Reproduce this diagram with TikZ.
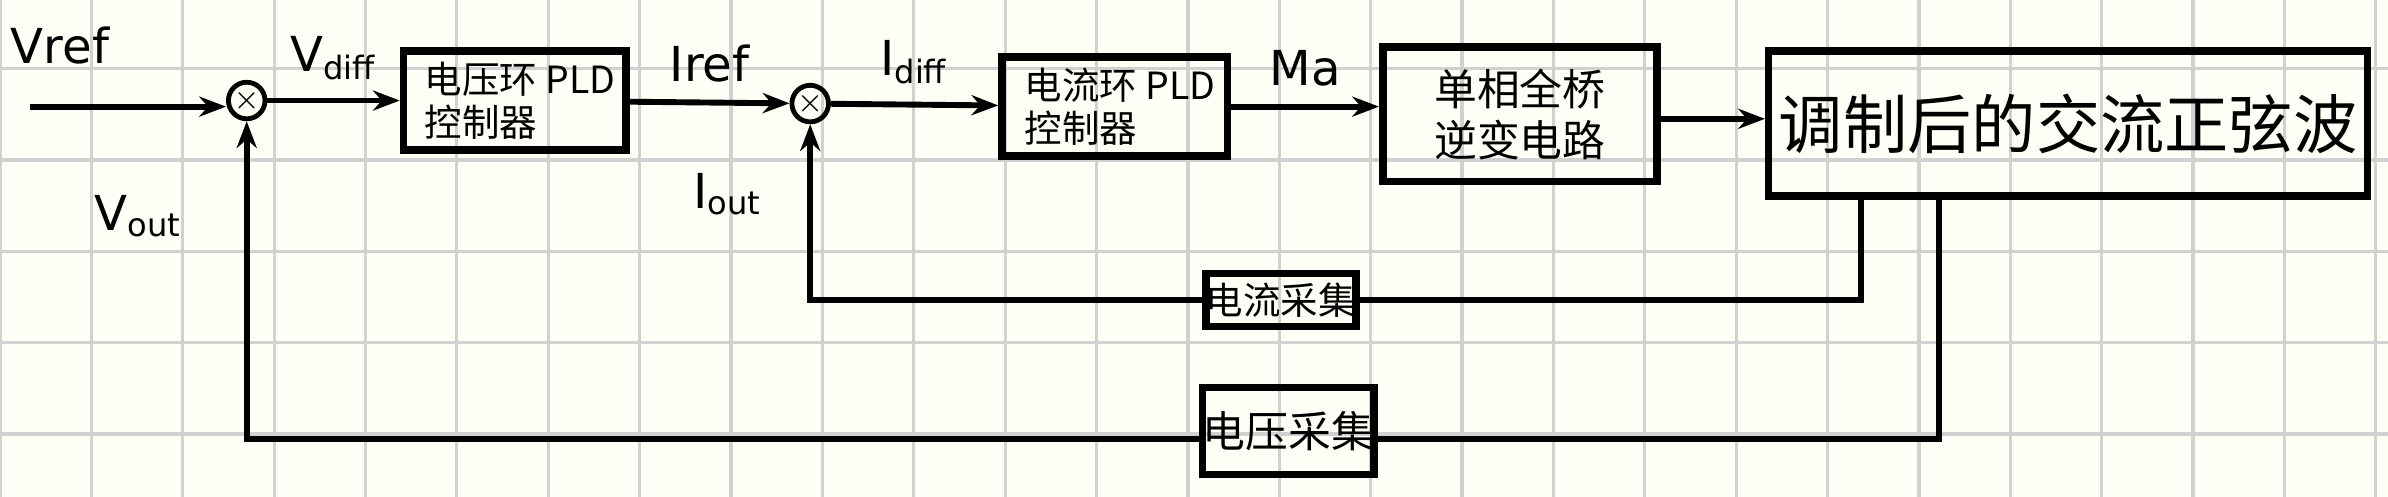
\documentclass[tikz,border=0pt]{standalone}
\usepackage{fontspec}
\setmainfont{DejaVu Sans}
\newfontfamily\cjk{Noto Sans CJK SC}
\usetikzlibrary{arrows.meta}
\tikzset{
  blk/.style={draw, line width=1.4pt, inner sep=0pt, font=\cjk\scriptsize, align=left},
  sum/.style={draw, circle, line width=0.9pt, minimum size=0.24cm, inner sep=0pt, font=\tiny},
  sig/.style={-{Stealth[length=5pt]}, line width=1.1pt},
  fb/.style={line width=1.1pt},
  lbl/.style={font=\small}
}
\begin{document}
\begin{tikzpicture}[x=0.01cm, y=-0.01cm]
\useasboundingbox (0,0) rectangle (1568,326);
\fill [white!97!yellow] (0,0) rectangle (1568,326);
\foreach \x in {0,...,26}
  \draw [black!18, line width=0.6pt] (60*\x,0) -- (60*\x,326);
\foreach \y in {0,...,4}
  \draw [black!18, line width=0.6pt] (0,45+60*\y) -- (1568,45+60*\y);
% blocks
\node [blk, minimum width=1.46cm, minimum height=0.65cm] (vpid) at (338,66) {\hspace{2pt}电压环 PLD\\\hspace{2pt}控制器};
\node [blk, minimum width=1.48cm, minimum height=0.65cm] (ipid) at (732,70) {\hspace{2pt}电流环 PLD\\\hspace{2pt}控制器};
\node [blk, minimum width=1.8cm, minimum height=0.88cm, font=\cjk\footnotesize] (inv) at (998,75) {单相全桥\\逆变电路};
\node [blk, minimum width=3.93cm, minimum height=0.95cm, font=\cjk\large] (out) at (1358,81) {调制后的交流正弦波};
\node [blk, minimum width=0.97cm, minimum height=0.35cm] (isen) at (841,197) {电流采集};
\node [blk, minimum width=1.1cm, minimum height=0.57cm, font=\cjk\footnotesize] (vsen) at (846,283) {电压采集};
% summing junctions
\node [sum] (s1) at (162,66) {$\times$};
\node [sum] (s2) at (532,68) {$\times$};
\coordinate (in) at (20,70);
% forward path
\draw [sig] (in) -- (s1.west |- in) node [lbl, pos=0.15, above=4pt] {Vref};
\draw [sig] (s1) -- (vpid) node [lbl, midway, above] {V\textsubscript{diff}};
\draw [sig] (vpid) -- (s2) node [lbl, midway, above] {Iref};
\draw [sig] (s2) -- (ipid) node [lbl, midway, above] {I\textsubscript{diff}};
\draw [sig] (ipid) -- (inv.west |- ipid) node [lbl, midway, above] {Ma};
\draw [sig] (inv.east |- 0,78) -- (out.west |- 0,78);
% feedback
\coordinate (ic) at (1222,197);
\coordinate (vc) at (1273,288);
\draw [fb] (out.south -| ic) -- (ic) -- (isen);
\draw [sig] (isen) -| (s2) node [lbl, pos=0.8, left=5pt] {I\textsubscript{out}};
\draw [fb] (out.south -| vc) -- (vc) -- (vsen.east |- vc);
\draw [sig] (vsen.west |- vc) -| (s1) node [lbl, pos=0.85, left=8pt] {V\textsubscript{out}};
\end{tikzpicture}
\end{document}
